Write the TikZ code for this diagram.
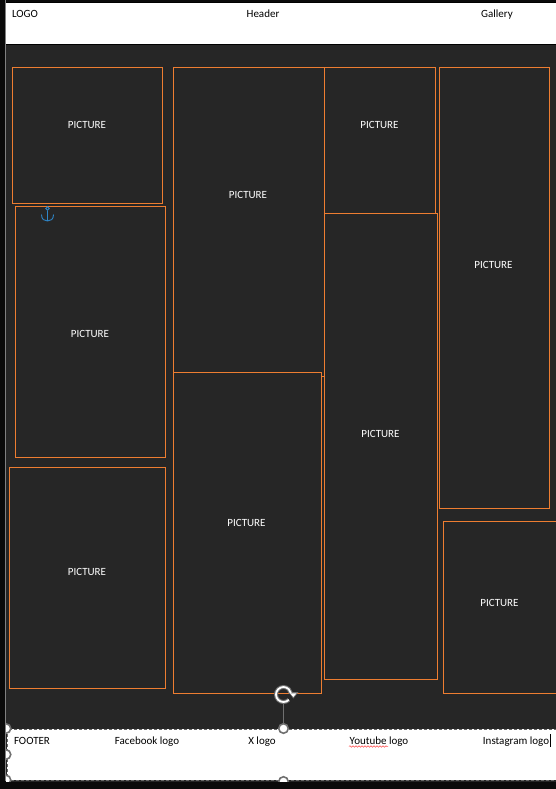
\documentclass[tikz,border=0pt]{standalone}
\usepackage{fontspec}
\setmainfont{Carlito}
\usetikzlibrary{decorations.pathmorphing}
\definecolor{slide}{HTML}{262626}
\definecolor{frameline}{HTML}{ED7D31}
\definecolor{handleline}{HTML}{707070}
\definecolor{anchorblue}{HTML}{2E86C8}
\tikzset{
  picframe/.style={draw=frameline,fill=slide,line width=0.8pt},
  pictext/.style={text=white,font=\fontsize{11}{13}\selectfont,inner sep=0pt,anchor=base},
  bartext/.style={text=black,font=\fontsize{11}{13}\selectfont,inner sep=0pt,anchor=base},
  handle/.style={draw=handleline,fill=white,circle,line width=1.6pt,minimum size=9.5pt,inner sep=0pt}
}
\begin{document}
\begin{tikzpicture}[x=1pt,y=-1pt]
\useasboundingbox (0,0) rectangle (556,789);
\fill[black!96] (0,0) rectangle (556,789);
\fill[slide] (5.5,2.5) rectangle (556,781.5);
\draw[gray,line width=0.8pt] (5.5,0) -- (5.5,781);

% header bar
\fill[white] (6,3) rectangle (556,44);
\draw[black,line width=0.8pt] (6,44) -- (556,44);
\draw[black,line width=0.8pt] (6,2.5) -- (556,2.5);
\node[bartext] (logo) at (25,18) {LOGO};
\node[bartext] (header) at (263,18) {Header};
\node[bartext] (gallery) at (497,18) {Gallery};

% picture frames
\draw[picframe] (12.5,67.5) rectangle (162.5,203.5);
\draw[picframe] (15.5,206.5) rectangle (165.5,457.5);
\draw[picframe] (9.5,467.5) rectangle (165.5,688.5);
\draw[picframe] (173.5,67.5) rectangle (324.5,376.5);
\draw[picframe] (324.5,67.5) rectangle (435.5,213.5);
\draw[picframe] (173.5,372.5) rectangle (321.5,693.5);
\draw[picframe] (324.5,213.5) rectangle (437.5,679.5);
\draw[picframe] (439.5,67.5) rectangle (549.5,508.5);
\draw[picframe] (443.5,521.5) rectangle (560,693.5);

\node[pictext] (picA) at (87,128.5) {PICTURE};
\node[pictext] (picB) at (90,337.5) {PICTURE};
\node[pictext] (picC) at (87,575.5) {PICTURE};
\node[pictext] (picD) at (248,198.5) {PICTURE};
\node[pictext] (picE) at (379.5,128.5) {PICTURE};
\node[pictext] (picF) at (246.5,526.5) {PICTURE};
\node[pictext] (picG) at (380.5,437.5) {PICTURE};
\node[pictext] (picH) at (493.5,268.5) {PICTURE};
\node[pictext] (picI) at (499.5,606.5) {PICTURE};

% anchor icon
\begin{scope}[draw=anchorblue,line width=0.9pt]
\draw (47.5,208.5) circle (1.8);
\draw (47.5,210.5) -- (47.5,221);
\draw (41.5,214.5) .. controls (41.5,219.5) and (44.5,221) .. (47.5,221) .. controls (50.5,221) and (53.5,219.5) .. (53.5,214.5);
\end{scope}

% footer bar
\fill[white] (7,729) rectangle (556,780);
\draw[black!60,line width=0.6pt,densely dashed] (7,729) rectangle (556,780);
\node[bartext] (footer) at (32,744) {FOOTER};
\node[bartext] (facebook) at (147,744) {Facebook logo};
\node[bartext] (xlogo) at (262,744) {X logo};
\node[bartext] (youtube) at (379,744) {Youtube logo};
\node[bartext] (instagram) at (516,744) {Instagram logo};
\draw[red!70,line width=0.5pt,decorate,decoration={snake,amplitude=0.8pt,segment length=3pt}] (349,746.5) -- (388,746.5);
\draw[black,line width=0.8pt] (550.5,734) -- (550.5,747);

% selection handles
\begin{scope}
\clip (6,0) rectangle (556,781.5);
\node[handle] (topmid) at (283.5,728.5) {};
\node[handle] (botmid) at (283.5,781.5) {};
\node[handle] (topleft) at (6,728.5) {};
\node[handle] (midleft) at (6,754.5) {};
\node[handle] (botleft) at (6,780) {};
\end{scope}

% rotate handle
\coordinate (rotmid) at (283.5,702);
\draw[handleline,line width=1pt] (rotmid) -- (topmid);
\draw[handleline,line width=4pt] (288.8,699.8) arc (45:350:7.5);
\fill[handleline] (288.5,692) -- (298.5,692) -- (293.3,698.5) -- cycle;
\draw[white,line width=1.8pt] (288.8,699.8) arc (45:350:7.5);
\fill[white] (290,693.3) -- (296.5,693.3) -- (293.3,697) -- cycle;
\end{tikzpicture}
\end{document}
